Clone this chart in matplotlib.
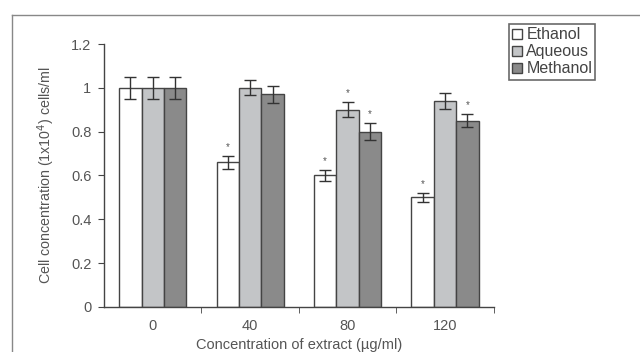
import numpy as np
import matplotlib.pyplot as plt
from matplotlib.lines import Line2D

plt.rcParams['font.family'] = ['Liberation Sans', 'DejaVu Sans']

# concentrations of extract (ug/ml)
doses = ['0', '40', '80', '120']
ethanol = [1.00, 0.66, 0.60, 0.50]
aqueous = [1.00, 1.00, 0.90, 0.94]
methanol = [1.00, 0.97, 0.80, 0.85]
ethanol_err = [0.05, 0.03, 0.025, 0.02]
aqueous_err = [0.05, 0.035, 0.035, 0.035]
methanol_err = [0.05, 0.04, 0.04, 0.03]
# significance stars (1 = marked)
ethanol_sig = [0, 1, 1, 1]
aqueous_sig = [0, 0, 1, 0]
methanol_sig = [0, 0, 1, 1]

txt = '#555555'
edge = '#444444'

fig = plt.figure(figsize=(6.4, 3.52), dpi=100)
ax = fig.add_axes([0.1625, 0.128, 0.609, 0.747])

x = np.arange(len(doses))
w = 0.23
series = [
    ('Ethanol', ethanol, ethanol_err, ethanol_sig, '#ffffff', -w),
    ('Aqueous', aqueous, aqueous_err, aqueous_sig, '#c3c5c7', 0),
    ('Methanol', methanol, methanol_err, methanol_sig, '#8a8a8a', w),
]
for name, vals, err, sig, col, off in series:
    ax.bar(x + off, vals, w, color=col, edgecolor=edge, linewidth=1.0, label=name,
           yerr=err, error_kw=dict(ecolor='#333333', elinewidth=1.0, capsize=4, capthick=1.0))
    for i in range(len(vals)):
        if sig[i]:
            ax.text(x[i] + off, vals[i] + err[i] + 0.04, '*', ha='center', va='center',
                    fontsize=7, color=txt)

ax.set_xlim(-0.5, 3.5)
ax.set_ylim(0, 1.2)
ax.set_yticks([0, 0.2, 0.4, 0.6, 0.8, 1.0, 1.2])
ax.set_yticklabels(['0', '0.2', '0.4', '0.6', '0.8', '1', '1.2'])
ax.set_xticks(x)
ax.set_xticklabels(doses)
ax.set_xticks(np.arange(0.5, 4, 1), minor=True)
ax.tick_params(axis='x', which='major', length=0, pad=9, labelsize=10.5, labelcolor=txt)
ax.tick_params(axis='x', which='minor', length=4, direction='out', color=edge)
ax.tick_params(axis='y', length=4, direction='out', color=edge, labelsize=10.5, labelcolor=txt, pad=5)
for s in ['top', 'right']:
    ax.spines[s].set_visible(False)
for s in ['left', 'bottom']:
    ax.spines[s].set_color(edge)
    ax.spines[s].set_linewidth(1.0)

ax.set_ylabel('Cell concentration (1x10$^4$) cells/ml', fontsize=10.3, color=txt, labelpad=10)
ax.set_xlabel('Concentration of extract (\u00b5g/ml)', fontsize=10.5, color=txt, labelpad=3)

leg = ax.legend(loc='upper left', bbox_to_anchor=(405 / 390, 1.075), frameon=True, fancybox=False,
                fontsize=11.5, handlelength=0.6, handleheight=0.6, handletextpad=0.3,
                borderpad=0.2, labelspacing=0.12, borderaxespad=0)
leg.get_frame().set_edgecolor('#444444')
leg.get_frame().set_linewidth(1.2)
for t in leg.get_texts():
    t.set_color('#444444')

# outer frame (left and top edges only)
fig.add_artist(Line2D([12 / 640, 12 / 640], [0, 1 - 15 / 352], color='#888888', lw=1.0))
fig.add_artist(Line2D([12 / 640, 1], [1 - 15 / 352, 1 - 15 / 352], color='#888888', lw=1.0))

fig.savefig('out.png', dpi=100)
